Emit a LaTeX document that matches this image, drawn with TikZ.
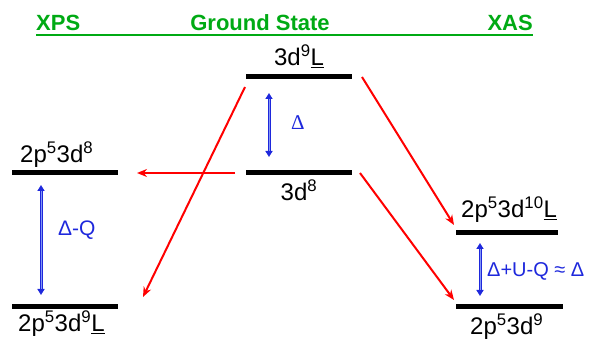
\documentclass[tikz,border=0pt]{standalone}
\usepackage{fontspec}
\setmainfont{Liberation Sans}
\newfontfamily\serifgr{Liberation Serif}
\usetikzlibrary{arrows.meta}
\definecolor{hgreen}{RGB}{0,170,20}
\definecolor{hblue}{RGB}{30,40,220}
\definecolor{hlblue}{RGB}{130,150,245}
\definecolor{hred}{RGB}{255,0,0}
\tikzset{
 level/.style={fill=black, inner sep=0pt, minimum width=106pt, minimum height=5pt},
 title/.style={font=\fontsize{22}{24}\selectfont\bfseries, text=hgreen, inner sep=0pt},
 lbl/.style={font=\fontsize{24}{26}\selectfont, inner sep=0pt},
 blbl/.style={font=\fontsize{20}{22}\selectfont, text=hblue, inner sep=0pt},
 trans/.style={draw=hred, line width=2pt, -{Stealth[length=10pt,width=8pt]}},
 gap/.style={draw=hblue, line width=3pt, {Triangle[length=6pt,width=7pt]}-{Triangle[length=6pt,width=7pt]}},
 gapin/.style={draw=hlblue, line width=1pt, shorten <=6pt, shorten >=6pt},
}
\begin{document}
\begin{tikzpicture}[x=1pt,y=-1pt]
\useasboundingbox (0,0) rectangle (590,339);
% titles
\node[title, anchor=base west] (tx) at (36,31) {XPS};
\node[title, anchor=base] (tg) at (260,31) {Ground State};
\node[title, anchor=base east] (ta) at (533,31) {XAS};
\coordinate (ul1) at (36,35.5);
\coordinate (ul2) at (533,35.5);
\draw[hgreen, line width=2pt] (ul1) -- (ul2);
% levels
\node[level] (g1) at (299,76.5) {};
\node[level] (g0) at (299,173) {};
\node[level] (p1) at (65,173) {};
\node[level] (p0) at (65,306.5) {};
\node[level, minimum width=102pt] (a1) at (507,232.5) {};
\node[level, minimum width=107pt] (a0) at (509.5,306.5) {};
% labels
\node[lbl, anchor=base] (lg1) at (299,66) {3d\textsuperscript{9}\underline{L}};
\node[lbl, anchor=base] (lg0) at (299,201) {3d\textsuperscript{8}};
\node[lbl, anchor=base west] (lp1) at (20,163) {2p\textsuperscript{5}3d\textsuperscript{8}};
\node[lbl, anchor=base west] (lp0) at (18,332) {2p\textsuperscript{5}3d\textsuperscript{9}\underline{L}};
\node[lbl, anchor=base west] (la1) at (461,218) {2p\textsuperscript{5}3d\textsuperscript{10}\underline{L}};
\node[lbl, anchor=base west] (la0) at (470,335) {2p\textsuperscript{5}3d\textsuperscript{9}};
% blue gaps
\coordinate (d1t) at (269,93);
\coordinate (d1b) at (269,157);
\draw[gap] (d1t) -- (d1b);
\draw[gapin] (d1t) -- (d1b);
\node[blbl, font=\fontsize{21}{22}\selectfont\serifgr] (ld1) at (298,123) {Δ};
\coordinate (d2t) at (41,185);
\coordinate (d2b) at (41,295);
\draw[gap] (d2t) -- (d2b);
\draw[gapin] (d2t) -- (d2b);
\node[blbl, font=\fontsize{21}{22}\selectfont, anchor=west] (ld2) at (58,230) {Δ-Q};
\coordinate (d3t) at (480,243);
\coordinate (d3b) at (480,296);
\draw[gap] (d3t) -- (d3b);
\draw[gapin] (d3t) -- (d3b);
\node[blbl, anchor=west] (ld3) at (487,271) {Δ+U-Q ≈ Δ};
% red transitions
\coordinate (r1s) at (245,87);
\coordinate (r1e) at (143,297);
\coordinate (r2s) at (235,173);
\coordinate (r2e) at (137,173);
\coordinate (r3s) at (362,77);
\coordinate (r3e) at (454,225);
\coordinate (r4s) at (360,173);
\coordinate (r4e) at (454,300);
\draw[trans] (r1s) -- (r1e);
\draw[trans] (r2s) -- (r2e);
\draw[trans] (r3s) -- (r3e);
\draw[trans] (r4s) -- (r4e);
\end{tikzpicture}
\end{document}
